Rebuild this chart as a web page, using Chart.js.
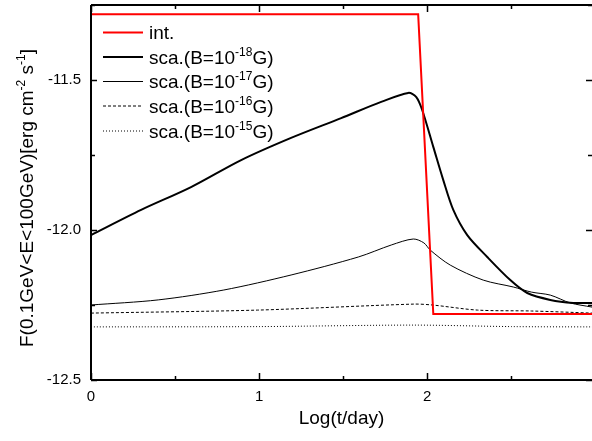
<!DOCTYPE html>
<html>
<head>
<meta charset="utf-8">
<script src="https://cdn.jsdelivr.net/npm/chart.js@4.4.0/dist/chart.umd.min.js"></script>
<style>body{margin:0;background:#fff}</style>
</head>
<body>
<canvas id="myChart" width="592" height="441"></canvas>
<script>
// int.
var xInt = [0, 1.946, 2.036, 2.98];
var yInt = [-11.281, -11.281, -12.28, -12.28];
// sca.(B=1e-18G)
var x18 = [0, 0.298, 0.595, 0.893, 1.19, 1.488, 1.726, 1.887, 1.935, 1.97, 2.036, 2.095, 2.155, 2.238, 2.357, 2.494, 2.595, 2.732, 2.869, 2.98];
var y18 = [-12.017, -11.933, -11.857, -11.767, -11.693, -11.627, -11.573, -11.543, -11.557, -11.60, -11.723, -11.833, -11.933, -12.017, -12.09, -12.167, -12.21, -12.233, -12.243, -12.243];
// sca.(B=1e-17G)
var x17 = [0, 0.4, 0.79, 1.19, 1.59, 1.786, 1.917, 1.98, 2.018, 2.137, 2.333, 2.512, 2.62, 2.732, 2.85, 2.98];
var y17 = [-12.25, -12.233, -12.2, -12.15, -12.09, -12.05, -12.03, -12.043, -12.067, -12.117, -12.167, -12.19, -12.207, -12.217, -12.243, -12.257];
// sca.(B=1e-16G)
var x16 = [0, 0.99, 1.92, 2.03, 2.3, 2.62, 2.98];
var y16 = [-12.277, -12.267, -12.247, -12.25, -12.267, -12.27, -12.277];
// sca.(B=1e-15G)
var x15 = [0, 1.0, 1.92, 2.5, 2.98];
var y15 = [-12.323, -12.322, -12.317, -12.322, -12.323];

var legendNames = [
    [["int.", 0]],
    [["sca.(B=10", 0], ["-18", 1], ["G)", 0]],
    [["sca.(B=10", 0], ["-17", 1], ["G)", 0]],
    [["sca.(B=10", 0], ["-16", 1], ["G)", 0]],
    [["sca.(B=10", 0], ["-15", 1], ["G)", 0]]
];

function pts(xs, ys) {
    return xs.map(function (x, i) { return {x: x, y: ys[i]}; });
}

var FONT = '"Liberation Sans", Arial, sans-serif';

function richWidth(c, parts, size) {
    var w = 0;
    parts.forEach(function (p) {
        c.font = (p[1] ? Math.round(size * 0.62) : size) + 'px ' + FONT;
        w += c.measureText(p[0]).width;
    });
    return w;
}
function drawRich(c, parts, x, y, size) {
    var cx = x;
    c.textAlign = 'left';
    c.textBaseline = 'alphabetic';
    parts.forEach(function (p) {
        c.font = (p[1] ? Math.round(size * 0.62) : size) + 'px ' + FONT;
        c.fillText(p[0], cx, p[1] ? y - size * 0.4 : y);
        cx += c.measureText(p[0]).width;
    });
}

var frame = {
    id: 'frame',
    afterDraw: function (chart) {
        var c = chart.ctx, a = chart.chartArea;
        var xs = chart.scales.x, ys = chart.scales.y;
        c.save();
        c.strokeStyle = '#000';
        c.lineWidth = 2;
        c.beginPath();
        c.moveTo(a.left, a.top); c.lineTo(a.right, a.top);
        c.moveTo(a.left, a.top); c.lineTo(a.left, a.bottom);
        c.moveTo(a.left, a.bottom); c.lineTo(a.right, a.bottom);
        c.stroke();
        c.lineWidth = 1.5;
        c.beginPath();
        xs.ticks.forEach(function (t) {
            var px = Math.round(xs.getPixelForValue(t.value)) + 0.5;
            var len = Math.abs(t.value - Math.round(t.value)) < 1e-6 ? 7 : 4;
            c.moveTo(px, a.bottom); c.lineTo(px, a.bottom - len);
            c.moveTo(px, a.top); c.lineTo(px, a.top + len);
        });
        ys.ticks.forEach(function (t) {
            var py = Math.round(ys.getPixelForValue(t.value)) + 0.5;
            var len = Math.abs(t.value * 2 - Math.round(t.value * 2)) < 1e-6 ? 6 : 4;
            c.moveTo(a.left, py); c.lineTo(a.left + len, py);
            c.moveTo(a.right, py); c.lineTo(a.right - len, py);
        });
        c.stroke();

        // legend
        var rowY = [32.5, 57, 81.5, 106, 131];
        chart.data.datasets.forEach(function (ds, i) {
            c.strokeStyle = ds.borderColor;
            c.lineWidth = ds.borderWidth;
            c.setLineDash(ds.borderDash || []);
            c.beginPath();
            c.moveTo(103, rowY[i]); c.lineTo(143, rowY[i]);
            c.stroke();
            c.setLineDash([]);
            c.fillStyle = '#000';
            drawRich(c, legendNames[i], 149, rowY[i] + 6.5, 19);
        });

        // axis titles
        c.fillStyle = '#000';
        c.font = '19px ' + FONT;
        c.textAlign = 'center';
        c.textBaseline = 'alphabetic';
        c.fillText('Log(t/day)', (a.left + a.right) / 2, 424);

        var yTitle = [["F(0.1GeV<E<100GeV)[erg cm", 0], ["-2", 1], [" s", 0], ["-1", 1], ["]", 0]];
        c.translate(33, 198);
        c.rotate(-Math.PI / 2);
        var w = richWidth(c, yTitle, 19);
        drawRich(c, yTitle, -w / 2, 0, 19);
        c.restore();
    }
};

var ctx = document.getElementById("myChart").getContext('2d');
var common = {
    fill: false,
    pointRadius: 0,
    tension: 0.3
};
var myChart = new Chart(ctx, {
    type: 'line',
    data: {
        datasets: [
            Object.assign({}, common, {label: 'int.', data: pts(xInt, yInt), borderColor: '#ff0000', borderWidth: 2, tension: 0}),
            Object.assign({}, common, {label: 'B18', data: pts(x18, y18), borderColor: '#000', borderWidth: 2}),
            Object.assign({}, common, {label: 'B17', data: pts(x17, y17), borderColor: '#000', borderWidth: 1}),
            Object.assign({}, common, {label: 'B16', data: pts(x16, y16), borderColor: '#000', borderWidth: 1, borderDash: [3, 2]}),
            Object.assign({}, common, {label: 'B15', data: pts(x15, y15), borderColor: '#000', borderWidth: 1, borderDash: [1, 2]})
        ]
    },
    options: {
        responsive: false,
        animation: false,
        layout: {padding: {top: 5, right: 0, left: 0, bottom: 0}},
        plugins: {legend: {display: false}, tooltip: {enabled: false}},
        scales: {
            x: {
                type: 'linear',
                min: 0,
                max: 2.98,
                grid: {display: false},
                border: {display: false},
                afterFit: function (s) { s.height = 61; s.paddingLeft = 0; s.paddingRight = 0; },
                ticks: {
                    stepSize: 0.5,
                    includeBounds: false,
                    maxRotation: 0,
                    autoSkip: false,
                    padding: 0,
                    color: '#000',
                    font: {family: FONT, size: 15},
                    callback: function (v) { return Math.abs(v - Math.round(v)) < 1e-6 ? String(Math.round(v)) : ''; }
                }
            },
            y: {
                type: 'linear',
                min: -12.5,
                max: -11.25,
                grid: {display: false},
                border: {display: false},
                afterFit: function (s) { s.width = 91; s.paddingTop = 0; s.paddingBottom = 0; },
                ticks: {
                    stepSize: 0.25,
                    includeBounds: false,
                    autoSkip: false,
                    padding: 2,
                    color: '#000',
                    font: {family: FONT, size: 15},
                    callback: function (v) { return Math.abs(v * 2 - Math.round(v * 2)) < 1e-6 ? v.toFixed(1) : ''; }
                }
            }
        }
    },
    plugins: [frame]
});
</script>
</body>
</html>
